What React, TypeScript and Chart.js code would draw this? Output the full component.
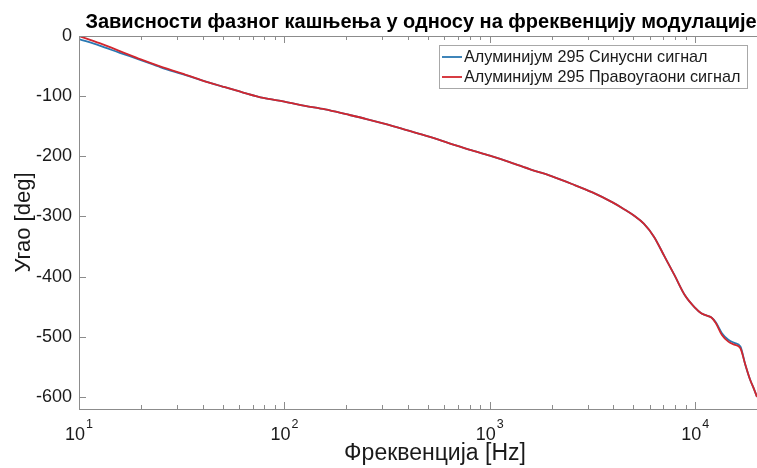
import React, { useEffect, useRef } from 'react';
import { Chart, registerables } from 'chart.js';

Chart.register(...registerables);

// ---- data ----
const frequencies = [10, 12.6, 15.8, 20, 25, 31.6, 40, 50, 63, 79, 100, 126, 158, 200, 251, 316, 398, 501, 631, 794, 1000, 1259, 1585, 1995, 2512, 3162, 3981, 4467, 5012, 5623, 6310, 7079, 7943, 8913, 10000, 10700, 11220, 12000, 12600, 13500, 14500, 15500, 16600, 17500, 18500, 19300, 20000];
const sinePhase = [-5, -16, -28, -40, -52, -63, -74, -84, -94, -103, -109, -116, -122, -130, -138, -147, -157, -167, -178, -189, -199, -210, -222, -233, -246, -260, -277, -287, -298, -312, -334, -366, -398, -431, -452, -461, -464, -468, -476, -494, -505, -510, -516, -545, -571, -586, -600];
const squarePhase = [0, -12, -25, -39, -51, -62, -74, -84, -94, -103, -109, -116, -122, -130, -138, -147, -157, -167, -178, -189, -199, -210, -222, -233, -246, -260, -277, -287, -298, -312, -334, -366, -398, -431, -452, -461, -464, -468, -477, -497, -508, -513, -519, -545, -571, -586, -600];

const seriesLabels = ['Алуминијум 295 Синусни сигнал', 'Алуминијум 295 Правоугаони сигнал'];
const seriesColors = ['#2a78b2', '#d3262e'];
const chartTitle = 'Зависности фазног кашњења у односу на фреквенцију модулације';
const xAxisTitle = 'Фреквенција [Hz]';
const yAxisTitle = 'Угао [deg]';
const yTickValues = [0, -100, -200, -300, -400, -500, -600];
const xMajorTicks = [10, 100, 1000, 10000];
const xMajorExponents = ['1', '2', '3', '4'];
const minorMultipliers = [2, 3, 4, 5, 6, 7, 8, 9];

const xTickValues: number[] = [];
xMajorTicks.forEach((m) => {
  xTickValues.push(m);
  minorMultipliers.forEach((k) => {
    const v = m * k;
    if (v < 20000) xTickValues.push(v);
  });
});

const FONT = '"Liberation Sans", Arial, sans-serif';
const AXIS = '#8c8c8c';
const TEXT = '#1a1a1a';

const overlay = {
  id: 'overlay',
  afterDraw(chart: any) {
    const { ctx, chartArea: a, scales } = chart;
    const xs = scales.x;
    const ys = scales.y;
    ctx.save();
    ctx.strokeStyle = AXIS;
    ctx.lineWidth = 1;
    ctx.beginPath();
    ctx.moveTo(a.left + 0.5, a.top);
    ctx.lineTo(a.left + 0.5, a.bottom + 1);
    ctx.moveTo(a.left, a.bottom + 0.5);
    ctx.lineTo(a.right, a.bottom + 0.5);
    ctx.moveTo(a.left, a.top + 0.5);
    ctx.lineTo(a.right, a.top + 0.5);
    // y ticks (inward)
    ys.ticks.forEach((t: any) => {
      const py = Math.round(ys.getPixelForValue(t.value)) + 0.5;
      ctx.moveTo(a.left, py);
      ctx.lineTo(a.left + 7, py);
    });
    // x ticks top & bottom (inward)
    xs.ticks.forEach((t: any) => {
      const major = xMajorTicks.includes(t.value);
      const len = major ? 7 : 4;
      const px = Math.round(xs.getPixelForValue(t.value)) + 0.5;
      ctx.moveTo(px, a.bottom);
      ctx.lineTo(px, a.bottom - len);
      ctx.moveTo(px, a.top);
      ctx.lineTo(px, a.top + len);
    });
    ctx.stroke();

    // x tick labels with superscripts
    ctx.fillStyle = TEXT;
    ctx.textBaseline = 'alphabetic';
    ctx.textAlign = 'left';
    xMajorTicks.forEach((v, i) => {
      const px = xs.getPixelForValue(v);
      ctx.font = `18px ${FONT}`;
      const wb = ctx.measureText('10').width;
      ctx.font = `12.5px ${FONT}`;
      const we = ctx.measureText(xMajorExponents[i]).width;
      const start = px - (wb + we + 1) / 2;
      ctx.font = `18px ${FONT}`;
      ctx.fillText('10', start, a.bottom + 31);
      ctx.font = `12.5px ${FONT}`;
      ctx.fillText(xMajorExponents[i], start + wb + 1, a.bottom + 19);
    });

    // x axis title
    ctx.font = `23px ${FONT}`;
    ctx.textAlign = 'center';
    ctx.textBaseline = 'middle';
    ctx.fillText(xAxisTitle, 435, a.bottom + 45);

    // main title
    ctx.fillStyle = '#000';
    ctx.font = `bold 20px ${FONT}`;
    ctx.textBaseline = 'alphabetic';
    ctx.fillText(chartTitle, 421, 28);

    // legend
    const lx = 439, ly = 45, lw = 308, lh = 43;
    ctx.fillStyle = '#fff';
    ctx.fillRect(lx, ly, lw, lh);
    ctx.strokeStyle = '#a8a8a8';
    ctx.lineWidth = 1;
    ctx.strokeRect(lx + 0.5, ly + 0.5, lw, lh);
    seriesLabels.forEach((lab, i) => {
      const cy = 57 + i * 20;
      ctx.strokeStyle = seriesColors[i];
      ctx.lineWidth = 1.8;
      ctx.beginPath();
      ctx.moveTo(442, cy);
      ctx.lineTo(462, cy);
      ctx.stroke();
      ctx.fillStyle = TEXT;
      ctx.font = `16.2px ${FONT}`;
      ctx.textAlign = 'left';
      ctx.textBaseline = 'middle';
      ctx.fillText(lab, 464, cy + 1);
    });
    ctx.restore();
  },
};

export default function App() {
  const ref = useRef<HTMLCanvasElement>(null);
  useEffect(() => {
    if (!ref.current) return;
    const chart = new Chart(ref.current, {
      type: 'line',
      data: {
        datasets: [
          {
            label: seriesLabels[0],
            data: frequencies.map((f, i) => ({ x: f, y: sinePhase[i] })),
            borderColor: seriesColors[0],
            borderWidth: 1.8,
            pointRadius: 0,
            cubicInterpolationMode: 'monotone',
            order: 1,
          },
          {
            label: seriesLabels[1],
            data: frequencies.map((f, i) => ({ x: f, y: squarePhase[i] })),
            borderColor: seriesColors[1],
            borderWidth: 1.8,
            pointRadius: 0,
            cubicInterpolationMode: 'monotone',
            order: 0,
          },
        ],
      },
      options: {
        animation: false,
        responsive: true,
        maintainAspectRatio: false,
        layout: { padding: { top: 36, left: 0, right: 0, bottom: 0 } },
        plugins: { legend: { display: false }, tooltip: { enabled: false }, title: { display: false } },
        scales: {
          x: {
            type: 'logarithmic',
            min: 10,
            max: 20000,
            grid: { display: false, drawTicks: false },
            border: { display: false },
            ticks: { display: false },
            afterBuildTicks: (s: any) => {
              s.ticks = xTickValues.map((v) => ({ value: v }));
            },
            afterFit: (s: any) => {
              s.height = 59;
            },
          },
          y: {
            type: 'linear',
            min: -620,
            max: 0,
            grid: { display: false, drawTicks: false },
            border: { display: false },
            afterBuildTicks: (s: any) => {
              s.ticks = yTickValues.map((v) => ({ value: v }));
            },
            ticks: {
              padding: 7,
              color: TEXT,
              font: { family: FONT, size: 18 },
              callback: (v: any) => String(v),
            },
            title: {
              display: true,
              text: yAxisTitle,
              color: TEXT,
              font: { family: FONT, size: 22 },
              padding: { top: 11, bottom: 0 },
            },
            afterFit: (s: any) => {
              s.width = 79;
            },
          },
        },
      },
      plugins: [overlay],
    } as any);
    return () => chart.destroy();
  }, []);
  return (
    <div style={{ position: 'fixed', left: 0, top: 0, width: 757, height: 468, background: '#fff' }}>
      <canvas ref={ref} />
    </div>
  );
}
